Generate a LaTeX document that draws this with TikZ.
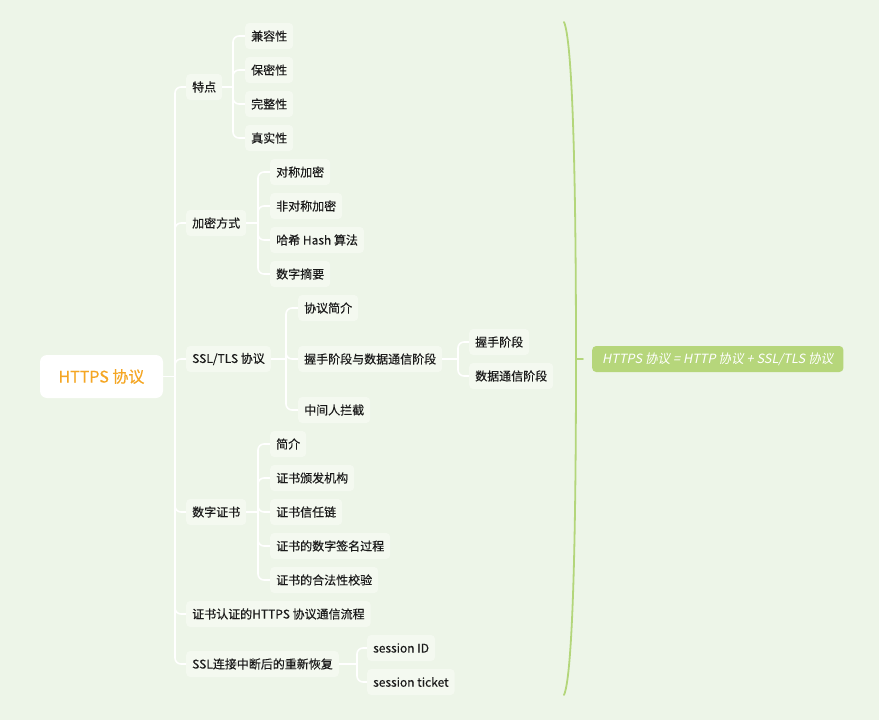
\documentclass[tikz,border=0pt]{standalone}
\usepackage{fontspec}
\newfontfamily\cjk{Noto Sans CJK SC}[FakeBold=0.3]
\newfontfamily\cjkit{Noto Sans CJK SC}[FakeSlant=0.2]
\definecolor{bgc}{HTML}{EDF5E8}
\definecolor{boxc}{HTML}{F4F9F0}
\definecolor{txtc}{HTML}{1A1A1A}
\definecolor{orng}{HTML}{F5A623}
\definecolor{grn}{HTML}{B6D67B}
\definecolor{brc}{HTML}{B3D67A}
\tikzset{
  leaf/.style={fill=boxc, rounded corners=4pt, inner xsep=6pt, inner ysep=0pt,
    minimum height=26pt, anchor=west, text=txtc, font=\cjk\fontsize{12}{14}\selectfont},
  rootbox/.style={fill=white, rounded corners=7pt, minimum width=123pt, minimum height=43pt,
    inner sep=0pt, text=orng, font=\cjk\fontsize{16}{18}\selectfont},
  sumbox/.style={fill=grn, rounded corners=4pt, minimum height=26pt, inner xsep=10pt, inner ysep=0pt,
    anchor=west, text=white, font=\cjkit\fontsize{12.7}{14}\selectfont},
  conn/.style={draw=white, line width=1.6pt, rounded corners=6pt},
  bracel/.style={draw=brc, line width=1.8pt, line cap=round}
}
\begin{document}
\begin{tikzpicture}[x=1pt,y=-1pt]
\fill[bgc] (0,0) rectangle (879,720);
\useasboundingbox (0,0) rectangle (879,720);

% root
\node[rootbox] (root) at (101.5,376.5) {HTTPS 协议};

% level 1
\node[leaf] (tedian) at (186,87) {特点};
\node[leaf] (jiami) at (186,223) {加密方式};
\node[leaf] (ssl) at (186,359) {SSL/TLS 协议};
\node[leaf] (cert) at (186,512) {数字证书};
\node[leaf] (flow) at (186,614) {证书认证的HTTPS 协议通信流程};
\node[leaf] (resume) at (186,664) {SSL连接中断后的重新恢复};

% 特点 children
\node[leaf] (t1) at (245,36) {兼容性};
\node[leaf] (t2) at (245,70) {保密性};
\node[leaf] (t3) at (245,104) {完整性};
\node[leaf] (t4) at (245,138) {真实性};

% 加密方式 children
\node[leaf] (j1) at (270,172) {对称加密};
\node[leaf] (j2) at (270,206) {非对称加密};
\node[leaf] (j3) at (270,240) {哈希 Hash 算法};
\node[leaf] (j4) at (270,274) {数字摘要};

% SSL/TLS children
\node[leaf] (s1) at (298,308) {协议简介};
\node[leaf] (s2) at (298,359) {握手阶段与数据通信阶段};
\node[leaf] (s3) at (298,410) {中间人拦截};
\node[leaf] (h1) at (469,342) {握手阶段};
\node[leaf] (h2) at (469,376) {数据通信阶段};

% 数字证书 children
\node[leaf] (c1) at (270,444) {简介};
\node[leaf] (c2) at (270,478) {证书颁发机构};
\node[leaf] (c3) at (270,512) {证书信任链};
\node[leaf] (c4) at (270,546) {证书的数字签名过程};
\node[leaf] (c5) at (270,580) {证书的合法性校验};

% resume children
\node[leaf] (r1) at (367,648) {session ID};
\node[leaf] (r2) at (367,682) {session ticket};

% junctions
\coordinate (k0) at (175,376.5);
\coordinate (k1) at (233,87);
\coordinate (k2) at (258,223);
\coordinate (k3) at (286,359);
\coordinate (k4) at (458,359);
\coordinate (k5) at (258,512);
\coordinate (k6) at (357,664);

% connectors
\draw[conn] (root.east) -- (k0);
\foreach \n in {tedian,jiami,ssl,cert,flow,resume} \draw[conn] (k0) |- (\n.west);
\draw[conn] (tedian.east) -- (k1);
\foreach \n in {t1,t2,t3,t4} \draw[conn] (k1) |- (\n.west);
\draw[conn] (jiami.east) -- (k2);
\foreach \n in {j1,j2,j3,j4} \draw[conn] (k2) |- (\n.west);
\draw[conn] (ssl.east) -- (k3);
\foreach \n in {s1,s2,s3} \draw[conn] (k3) |- (\n.west);
\draw[conn] (s2.east) -- (k4);
\foreach \n in {h1,h2} \draw[conn] (k4) |- (\n.west);
\draw[conn] (cert.east) -- (k5);
\foreach \n in {c1,c2,c3,c4,c5} \draw[conn] (k5) |- (\n.west);
\draw[conn] (resume.east) -- (k6);
\foreach \n in {r1,r2} \draw[conn] (k6) |- (\n.west);

% summary brace
\coordinate (btop) at (564,22);
\coordinate (bmid) at (576,359);
\coordinate (bbot) at (564,695);
\coordinate (btick) at (583,359);
\draw[bracel] (btop) .. controls (572,40) and (576,160) .. (bmid) .. controls (576,558) and (572,677) .. (bbot);
\draw[bracel] (bmid) -- (btick);
\node[sumbox] (sum) at (592,359) {HTTPS 协议 = HTTP 协议 + SSL/TLS 协议};
\end{tikzpicture}
\end{document}
